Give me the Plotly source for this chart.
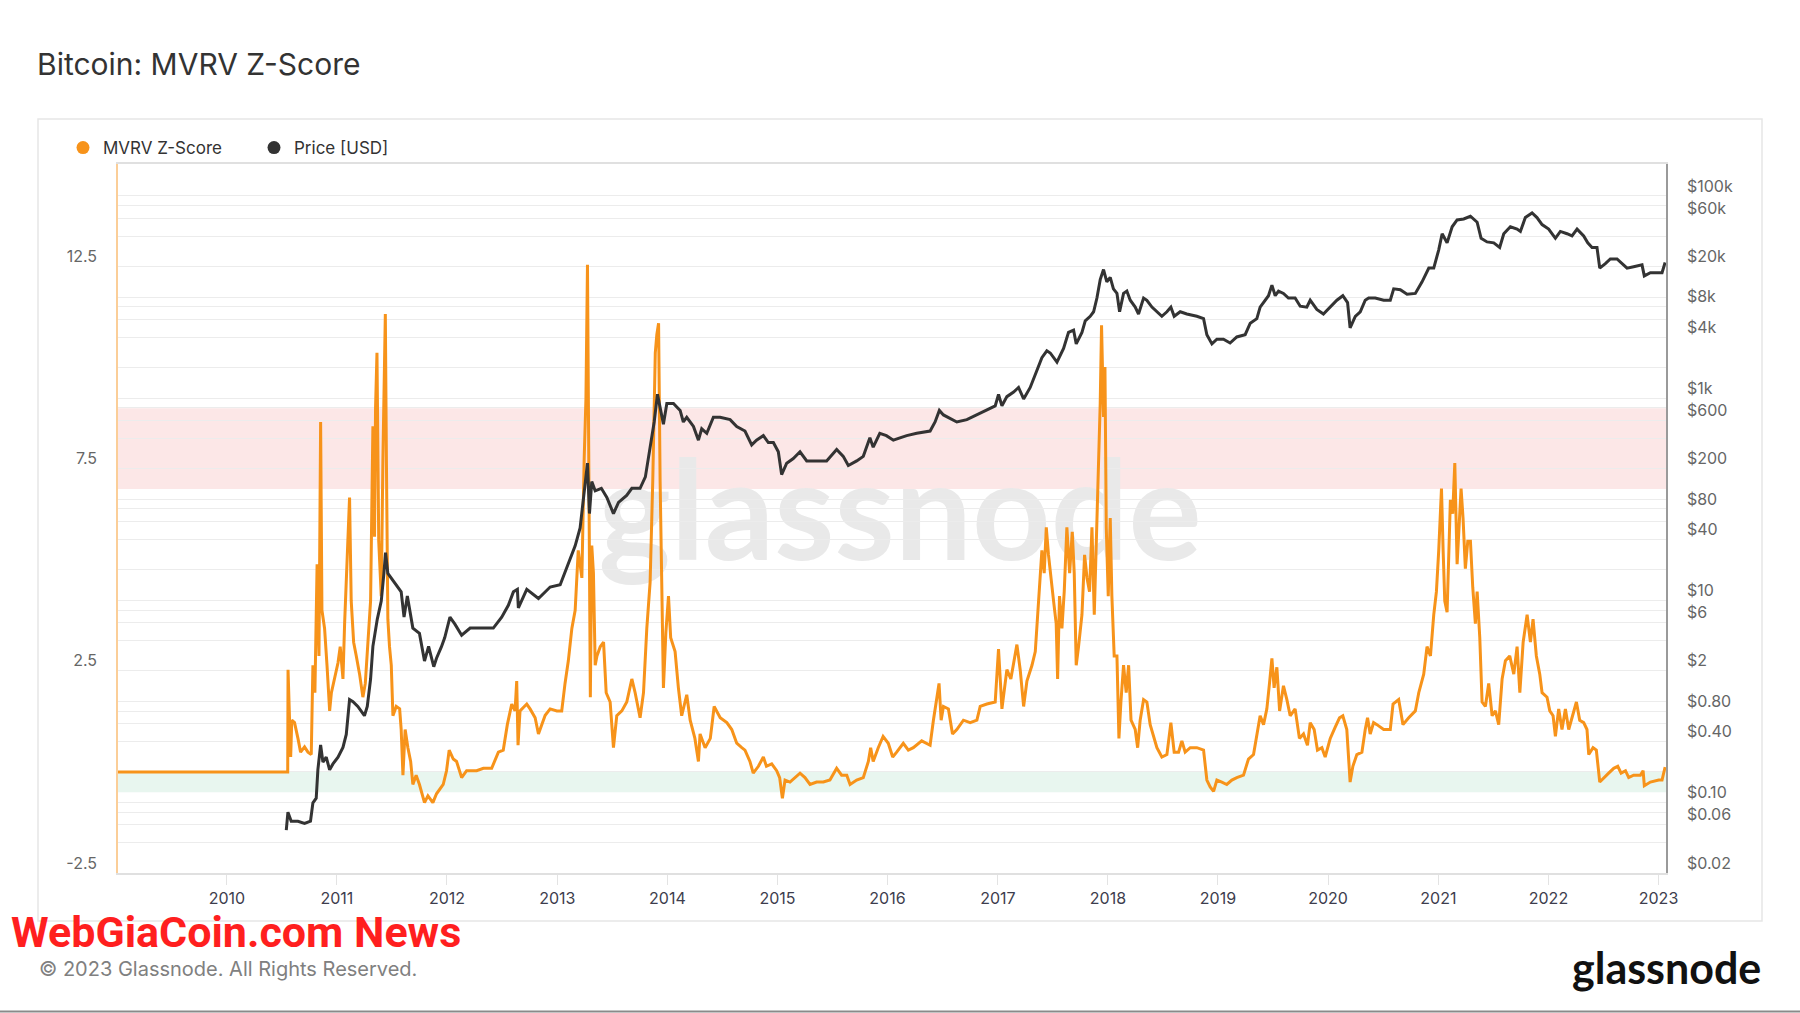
import datetime as dt
import plotly.graph_objects as go

# ---------------- data ----------------
# MVRV Z-Score: time as decimal year, value
z_year = [2009.005, 2010.553, 2010.556, 2010.58, 2010.59, 2010.615, 2010.646, 2010.67, 2010.706, 2010.737,
          2010.767, 2010.782, 2010.80, 2010.82, 2010.837, 2010.852, 2010.864, 2010.888, 2010.91, 2010.934,
          2010.95, 2010.98, 2011.01, 2011.03, 2011.055, 2011.07, 2011.094, 2011.115, 2011.13, 2011.152,
          2011.176, 2011.206, 2011.236, 2011.258, 2011.282, 2011.306, 2011.327, 2011.342, 2011.351, 2011.364,
          2011.38, 2011.403, 2011.418, 2011.433, 2011.44, 2011.45, 2011.463, 2011.478, 2011.494, 2011.509,
          2011.539, 2011.57, 2011.584, 2011.6, 2011.62, 2011.645, 2011.67, 2011.69, 2011.72, 2011.75,
          2011.796, 2011.827, 2011.872, 2011.905, 2011.966, 2011.996, 2012.02, 2012.057, 2012.087, 2012.133,
          2012.178, 2012.223, 2012.269, 2012.33, 2012.405, 2012.466, 2012.51, 2012.547, 2012.587, 2012.617,
          2012.632, 2012.644, 2012.662, 2012.723, 2012.753, 2012.799, 2012.829, 2012.89, 2012.935, 2012.996,
          2013.04, 2013.07, 2013.10, 2013.132, 2013.162, 2013.19, 2013.223, 2013.244, 2013.26, 2013.274,
          2013.286, 2013.30, 2013.313, 2013.328, 2013.344, 2013.36, 2013.39, 2013.42, 2013.444, 2013.48,
          2013.51, 2013.54, 2013.586, 2013.631, 2013.677, 2013.707, 2013.752, 2013.783, 2013.813, 2013.843,
          2013.867, 2013.89, 2013.904, 2013.92, 2013.934, 2013.95, 2013.964, 2013.986, 2014.01, 2014.03,
          2014.07, 2014.10, 2014.13, 2014.176, 2014.207, 2014.25, 2014.282, 2014.297, 2014.343, 2014.39,
          2014.425, 2014.48, 2014.54, 2014.585, 2014.63, 2014.676, 2014.705, 2014.75, 2014.78, 2014.827,
          2014.872, 2014.9, 2014.948, 2014.993, 2015.02, 2015.045, 2015.069, 2015.114, 2015.16, 2015.205,
          2015.25, 2015.296, 2015.356, 2015.417, 2015.477, 2015.538, 2015.583, 2015.63, 2015.66, 2015.72,
          2015.78, 2015.826, 2015.847, 2015.87, 2015.916, 2015.96, 2016.007, 2016.047, 2016.083, 2016.143,
          2016.189, 2016.234, 2016.31, 2016.386, 2016.416, 2016.446, 2016.467, 2016.486, 2016.507, 2016.552,
          2016.589, 2016.628, 2016.688, 2016.749, 2016.81, 2016.84, 2016.9, 2016.976, 2017.006, 2017.037,
          2017.082, 2017.118, 2017.15, 2017.173, 2017.203, 2017.234, 2017.264, 2017.31, 2017.34, 2017.37,
          2017.40, 2017.421, 2017.44, 2017.46, 2017.476, 2017.506, 2017.53, 2017.543, 2017.56, 2017.582,
          2017.603, 2017.627, 2017.652, 2017.676, 2017.694, 2017.712, 2017.733, 2017.764, 2017.788, 2017.81,
          2017.833, 2017.855, 2017.876, 2017.894, 2017.915, 2017.93, 2017.942, 2017.96, 2017.973, 2017.985,
          2018.003, 2018.021, 2018.036, 2018.057, 2018.082, 2018.10, 2018.118, 2018.142, 2018.166, 2018.188,
          2018.21, 2018.248, 2018.27, 2018.293, 2018.324, 2018.354, 2018.384, 2018.42, 2018.445, 2018.49,
          2018.536, 2018.572, 2018.602, 2018.642, 2018.672, 2018.702, 2018.748, 2018.808, 2018.869, 2018.899,
          2018.929, 2018.96, 2018.99, 2019.035, 2019.08, 2019.126, 2019.171, 2019.232, 2019.277, 2019.323,
          2019.353, 2019.383, 2019.414, 2019.444, 2019.468, 2019.49, 2019.51, 2019.535, 2019.56, 2019.595,
          2019.626, 2019.656, 2019.701, 2019.74, 2019.777, 2019.813, 2019.838, 2019.874, 2019.904, 2019.944,
          2019.974, 2020.02, 2020.065, 2020.104, 2020.134, 2020.17, 2020.2, 2020.225, 2020.261, 2020.307,
          2020.337, 2020.358, 2020.382, 2020.413, 2020.443, 2020.504, 2020.564, 2020.589, 2020.64, 2020.679,
          2020.731, 2020.791, 2020.822, 2020.867, 2020.897, 2020.928, 2020.958, 2020.982, 2021.003, 2021.018,
          2021.028, 2021.043, 2021.058, 2021.079, 2021.094, 2021.109, 2021.13, 2021.149, 2021.17, 2021.185,
          2021.206, 2021.224, 2021.245, 2021.267, 2021.291, 2021.312, 2021.336, 2021.352, 2021.376, 2021.397,
          2021.427, 2021.457, 2021.488, 2021.518, 2021.548, 2021.579, 2021.609, 2021.648, 2021.685, 2021.715,
          2021.74, 2021.77, 2021.806, 2021.836, 2021.86, 2021.89, 2021.921, 2021.942, 2021.987, 2022.012,
          2022.042, 2022.063, 2022.093, 2022.123, 2022.154, 2022.184, 2022.214, 2022.254, 2022.284, 2022.32,
          2022.35, 2022.366, 2022.405, 2022.435, 2022.466, 2022.502, 2022.547, 2022.593, 2022.63, 2022.66,
          2022.7, 2022.729, 2022.774, 2022.835, 2022.86, 2022.871, 2022.926, 2023.002, 2023.032, 2023.06]
z_value = [0.0, 0.0, 2.53, 0.37, 1.28, 1.22, 0.83, 0.49, 0.62, 0.49,
           0.43, 2.64, 1.96, 5.14, 2.87, 8.66, 4.0, 3.55, 2.64, 1.51,
           1.96, 2.30, 2.70, 3.10, 2.30, 3.67, 5.60, 6.79, 4.23, 3.21,
           2.87, 2.42, 1.85, 2.19, 3.21, 4.23, 8.55, 5.82, 9.0, 10.37,
           5.71, 4.35, 7.75, 9.68, 11.33, 7.64, 3.78, 3.10, 2.64, 1.39,
           1.62, 1.56, 1.05, -0.08, 1.05, 0.6, 0.26, -0.31, -0.08, -0.31,
           -0.76, -0.59, -0.76, -0.54, -0.31, 0.03, 0.54, 0.32, 0.26, -0.14,
           0.03, 0.03, 0.03, 0.09, 0.09, 0.49, 0.54, 1.17, 1.68, 1.51,
           2.25, 0.66, 1.51, 1.68, 1.56, 1.34, 0.94, 1.40, 1.56, 1.51,
           1.51, 2.19, 2.75, 3.55, 4.0, 5.48, 4.8, 7.75, 9.23, 12.55,
           7.19, 1.85, 5.6, 4.92, 2.64, 2.87, 3.10, 3.21, 1.96, 1.73,
           0.6, 1.39, 1.51, 1.73, 2.30, 1.96, 1.34, 1.96, 3.55, 4.69,
           7.19, 10.37, 10.82, 11.1, 7.19, 4.23, 2.08, 3.44, 4.35, 3.32,
           2.98, 2.08, 1.39, 1.91, 1.28, 0.83, 0.26, 0.94, 0.6, 0.83,
           1.62, 1.34, 1.22, 1.05, 0.71, 0.6, 0.54, 0.26, -0.03, 0.14,
           0.37, 0.14, 0.2, 0.03, -0.14, -0.65, -0.2, -0.25, -0.14, -0.03,
           -0.14, -0.31, -0.25, -0.25, -0.2, 0.09, -0.08, -0.08, -0.31, -0.2,
           -0.14, 0.26, 0.6, 0.26, 0.6, 0.88, 0.71, 0.37, 0.49, 0.71,
           0.54, 0.6, 0.77, 0.66, 1.28, 1.85, 2.19, 1.28, 1.62, 1.56,
           0.94, 1.05, 1.28, 1.22, 1.28, 1.62, 1.68, 1.73, 3.04, 1.56,
           2.53, 2.30, 2.75, 3.15, 2.53, 1.62, 2.25, 2.64, 2.98, 4.23,
           5.48, 4.92, 6.05, 5.37, 4.92, 4.23, 3.67, 2.30, 4.35, 3.55,
           4.46, 6.05, 4.92, 5.94, 4.92, 2.64, 3.10, 3.89, 5.37, 4.8,
           4.46, 6.05, 3.89, 5.71, 7.19, 9.12, 11.05, 8.78, 10.02, 6.05,
           4.35, 6.28, 4.35, 2.87, 2.87, 0.83, 1.73, 2.64, 1.96, 2.64,
           1.28, 1.05, 0.6, 1.28, 1.79, 1.73, 1.17, 0.83, 0.6, 0.37,
           0.43, 1.22, 0.49, 0.49, 0.77, 0.49, 0.6, 0.6, 0.54, -0.2,
           -0.37, -0.48, -0.2, -0.25, -0.31, -0.2, -0.14, -0.08, 0.32, 0.43,
           0.94, 1.39, 1.17, 1.56, 2.19, 2.81, 2.08, 2.59, 1.51, 2.13,
           1.79, 1.39, 1.56, 0.83, 0.94, 0.66, 1.22, 1.05, 0.54, 0.6,
           0.37, 0.83, 1.11, 1.34, 1.39, 1.05, -0.25, 0.14, 0.43, 0.49,
           1.05, 1.34, 0.94, 1.22, 1.17, 1.05, 1.05, 1.68, 1.79, 1.17,
           1.34, 1.51, 1.96, 2.42, 3.1, 2.87, 3.89, 4.46, 5.48, 6.5,
           7.01, 5.48, 4.23, 3.95, 5.37, 6.73, 6.39, 7.64, 5.14, 6.05,
           7.01, 6.28, 5.03, 5.71, 5.71, 4.57, 3.67, 4.46, 3.32, 1.73,
           1.62, 2.19, 1.39, 1.51, 1.17, 2.30, 2.75, 2.87, 2.42, 3.1,
           1.96, 3.21, 3.89, 3.21, 3.78, 2.87, 2.42, 1.96, 1.85, 1.51,
           1.39, 0.88, 1.56, 1.05, 1.56, 1.05, 1.34, 1.73, 1.28, 1.22,
           1.05, 0.43, 0.6, 0.54, -0.25, -0.14, -0.03, 0.09, 0.14, -0.03,
           0.03, -0.14, -0.08, -0.08, 0.03, -0.34, -0.25, -0.2, -0.2, 0.12]

# Price [USD]
price_year = [2010.54, 2010.555, 2010.585, 2010.646, 2010.706, 2010.76, 2010.782, 2010.812, 2010.827, 2010.852,
              2010.873, 2010.903, 2010.934, 2010.964, 2011.01, 2011.055, 2011.085, 2011.115, 2011.146, 2011.19,
              2011.25, 2011.276, 2011.306, 2011.327, 2011.367, 2011.403, 2011.427, 2011.442, 2011.463, 2011.524,
              2011.584, 2011.61, 2011.64, 2011.69, 2011.75, 2011.796, 2011.833, 2011.88, 2011.905, 2011.95,
              2011.98, 2012.027, 2012.072, 2012.133, 2012.21, 2012.30, 2012.42, 2012.496, 2012.556, 2012.602,
              2012.638, 2012.647, 2012.723, 2012.829, 2012.935, 2013.026, 2013.087, 2013.162, 2013.207, 2013.244,
              2013.274, 2013.292, 2013.313, 2013.344, 2013.40, 2013.45, 2013.51, 2013.556, 2013.63, 2013.677,
              2013.752, 2013.80, 2013.843, 2013.88, 2013.91, 2013.934, 2013.964, 2013.995, 2014.055, 2014.116,
              2014.145, 2014.176, 2014.237, 2014.282, 2014.312, 2014.358, 2014.418, 2014.479, 2014.57, 2014.63,
              2014.705, 2014.766, 2014.81, 2014.872, 2014.917, 2014.963, 2015.008, 2015.038, 2015.084, 2015.144,
              2015.205, 2015.266, 2015.356, 2015.447, 2015.538, 2015.598, 2015.644, 2015.72, 2015.78, 2015.84,
              2015.87, 2015.93, 2015.99, 2016.053, 2016.113, 2016.174, 2016.265, 2016.386, 2016.431, 2016.47,
              2016.507, 2016.583, 2016.628, 2016.719, 2016.81, 2016.90, 2016.976, 2017.006, 2017.037, 2017.082,
              2017.143, 2017.188, 2017.234, 2017.294, 2017.355, 2017.40, 2017.445, 2017.476, 2017.537, 2017.597,
              2017.642, 2017.688, 2017.712, 2017.764, 2017.794, 2017.839, 2017.87, 2017.90, 2017.93, 2017.96,
              2017.99, 2018.021, 2018.05, 2018.082, 2018.106, 2018.142, 2018.172, 2018.203, 2018.248, 2018.278,
              2018.324, 2018.354, 2018.40, 2018.445, 2018.49, 2018.536, 2018.572, 2018.602, 2018.657, 2018.717,
              2018.808, 2018.869, 2018.899, 2018.945, 2018.99, 2019.05, 2019.11, 2019.171, 2019.247, 2019.293,
              2019.353, 2019.383, 2019.429, 2019.459, 2019.49, 2019.52, 2019.55, 2019.595, 2019.64, 2019.701,
              2019.747, 2019.807, 2019.838, 2019.898, 2019.958, 2020.02, 2020.08, 2020.134, 2020.177, 2020.20,
              2020.247, 2020.292, 2020.337, 2020.368, 2020.428, 2020.504, 2020.564, 2020.595, 2020.655, 2020.716,
              2020.791, 2020.852, 2020.913, 2020.958, 2021.003, 2021.034, 2021.079, 2021.125, 2021.17, 2021.23,
              2021.291, 2021.352, 2021.388, 2021.442, 2021.503, 2021.557, 2021.594, 2021.654, 2021.715, 2021.745,
              2021.79, 2021.851, 2021.896, 2021.942, 2022.002, 2022.063, 2022.108, 2022.169, 2022.214, 2022.26,
              2022.32, 2022.357, 2022.396, 2022.441, 2022.466, 2022.517, 2022.562, 2022.623, 2022.668, 2022.714,
              2022.774, 2022.85, 2022.871, 2022.926, 2022.986, 2023.032, 2023.06]
price_usd = [0.053, 0.08, 0.065, 0.065, 0.062, 0.065, 0.099, 0.11, 0.21, 0.37,
             0.25, 0.28, 0.21, 0.24, 0.28, 0.35, 0.47, 1.04, 0.99, 0.89,
             0.72, 0.89, 1.66, 3.5, 6.5, 9.8, 18.4, 29.5, 18.4, 15.0,
             12.1, 6.8, 11.0, 5.3, 4.7, 2.5, 3.5, 2.2, 2.67, 3.47,
             4.27, 6.8, 5.8, 4.5, 5.3, 5.3, 5.3, 6.8, 8.9, 12.1,
             12.8, 8.4, 12.8, 10.4, 13.5, 14.2, 21.6, 34.5, 52.0, 109.0,
             227.0, 72.0, 149.0, 121.0, 128.0, 104.0, 72.0, 93.0, 109.0, 128.0,
             128.0, 166.0, 310.0, 580.0, 1090.0, 794.0, 552.0, 883.0, 883.0, 755.0,
             580.0, 646.0, 524.0, 383.0, 497.0, 448.0, 646.0, 646.0, 612.0, 524.0,
             472.0, 344.0, 383.0, 425.0, 363.0, 363.0, 294.0, 175.0, 227.0, 252.0,
             294.0, 239.0, 239.0, 239.0, 310.0, 265.0, 215.0, 239.0, 265.0, 404.0,
             327.0, 448.0, 425.0, 383.0, 404.0, 425.0, 448.0, 472.0, 580.0, 755.0,
             681.0, 612.0, 580.0, 612.0, 681.0, 755.0, 838.0, 1089.0, 838.0, 1033.0,
             1148.0, 1274.0, 980.0, 1274.0, 1837.0, 2512.0, 2938.0, 2793.0, 2265.0, 3097.0,
             4467.0, 4710.0, 3436.0, 4467.0, 5808.0, 6442.0, 7145.0, 9772.0, 14860.0, 18700.0,
             14125.0, 15670.0, 12050.0, 10860.0, 7145.0, 10860.0, 11455.0, 9290.0, 7943.0, 6792.0,
             9772.0, 9290.0, 7943.0, 7145.0, 6442.0, 7145.0, 7943.0, 6442.0, 7145.0, 6792.0,
             6442.0, 6109.0, 4236.0, 3436.0, 3819.0, 3819.0, 3508.0, 4027.0, 4236.0, 5508.0,
             6109.0, 7943.0, 9290.0, 10300.0, 13120.0, 10300.0, 11455.0, 10860.0, 9772.0, 9772.0,
             8110.0, 7943.0, 9290.0, 7534.0, 6792.0, 7943.0, 9290.0, 10300.0, 8810.0, 4955.0,
             6442.0, 7145.0, 9290.0, 9772.0, 9772.0, 9290.0, 9290.0, 12050.0, 11800.0, 10640.0,
             10860.0, 14125.0, 19320.0, 19320.0, 29310.0, 42270.0, 34360.0, 49550.0, 57940.0, 59160.0,
             62950.0, 54950.0, 38110.0, 35080.0, 34360.0, 30900.0, 42270.0, 49550.0, 46990.0, 44570.0,
             61090.0, 67760.0, 61090.0, 52120.0, 46990.0, 38110.0, 44570.0, 42270.0, 40180.0, 46990.0,
             40180.0, 34360.0, 30900.0, 30900.0, 19320.0, 21430.0, 23820.0, 23820.0, 21430.0, 19320.0,
             19950.0, 20800.0, 16180.0, 17380.0, 17380.0, 17380.0, 22000.0]

year_ticks = list(range(2010, 2024))
z_tick_vals = [-2.5, 2.5, 7.5, 12.5]
price_grid_vals = [0.02, 0.04, 0.06, 0.08, 0.1, 0.2, 0.4, 0.6, 0.8, 1, 2, 4, 6, 8, 10, 20, 40, 60, 80, 100,
                   200, 400, 600, 800, 1000, 2000, 4000, 6000, 8000, 10000, 20000, 40000, 60000, 80000, 100000]
price_labels = {0.02: "$0.02", 0.06: "$0.06", 0.1: "$0.10", 0.4: "$0.40", 0.8: "$0.80", 2: "$2", 6: "$6",
                10: "$10", 40: "$40", 80: "$80", 200: "$200", 600: "$600", 1000: "$1k", 4000: "$4k",
                8000: "$8k", 20000: "$20k", 60000: "$60k", 100000: "$100k"}
red_zone = (7.0, 9.0)
green_zone = (-0.5, 0.0)


def to_date(y):
    yr = int(y)
    start = dt.datetime(yr, 1, 1)
    return start + dt.timedelta(days=(y - yr) * (dt.datetime(yr + 1, 1, 1) - start).days)


z_dates = [to_date(v) for v in z_year]
price_dates = [to_date(v) for v in price_year]

# ---------------- layout geometry ----------------
W, H = 1800, 1013
L, R, T, B = 118, 134, 164, 140
PW, PH = W - L - R, H - T - B


def px(x):
    return (x - L) / PW


def py(y):
    return (H - B - y) / PH


ORANGE = "#f7931a"
DARK = "#333333"
FONT = "Inter"

fig = go.Figure()

fig.add_trace(go.Scatter(x=z_dates, y=z_value, mode="lines", line=dict(color=ORANGE, width=3),
                         yaxis="y", showlegend=False, name="MVRV Z-Score"))
fig.add_trace(go.Scatter(x=price_dates, y=price_usd, mode="lines", line=dict(color=DARK, width=3),
                         yaxis="y2", showlegend=False, name="Price [USD]"))
# legend entries (dot markers)
fig.add_trace(go.Scatter(x=[None], y=[None], mode="markers", marker=dict(color=ORANGE, size=13),
                         name="MVRV Z-Score"))
fig.add_trace(go.Scatter(x=[None], y=[None], mode="markers", marker=dict(color=DARK, size=13),
                         name="Price [USD]"))

shapes = [
    dict(type="rect", xref="paper", yref="y", x0=0, x1=1, y0=red_zone[0], y1=red_zone[1],
         fillcolor="rgba(244,160,160,0.25)", line=dict(width=0), layer="below"),
    dict(type="rect", xref="paper", yref="y", x0=0, x1=1, y0=green_zone[0], y1=green_zone[1],
         fillcolor="rgba(150,215,180,0.22)", line=dict(width=0), layer="below"),
    # outer card
    dict(type="rect", xref="paper", yref="paper", x0=px(38), x1=px(1762), y0=py(921), y1=py(119),
         line=dict(color="#e6e6e6", width=1.5), fillcolor="rgba(0,0,0,0)", layer="below"),
    # bottom dark rule
    dict(type="line", xref="paper", yref="paper", x0=px(0), x1=px(1800), y0=py(1011.5), y1=py(1011.5),
         line=dict(color="#8a8a8a", width=2)),
    # watermark
    dict(type="rect", xref="paper", yref="paper", x0=px(600), x1=px(1200), y0=py(575), y1=py(435),
         line=dict(width=0), fillcolor="rgba(0,0,0,0)", layer="below",
         label=dict(text="glassnode", textposition="middle center",
                    font=dict(family="Lato", size=137, color="#e9e9e9", weight="bold"))),
]

annotations = [
    dict(text="WebGiaCoin.com News", xref="paper", yref="paper", x=px(9), y=py(932),
         xanchor="left", yanchor="middle", showarrow=False,
         font=dict(family="Roboto", size=43, color="#ff1f1f", weight="bold")),
    dict(text="© 2023 Glassnode. All Rights Reserved.", xref="paper", yref="paper", x=px(37), y=py(969),
         xanchor="left", yanchor="middle", showarrow=False,
         font=dict(family=FONT, size=20, color="#808080")),
    dict(text="glassnode", xref="paper", yref="paper", x=px(1763), y=py(967),
         xanchor="right", yanchor="middle", showarrow=False,
         font=dict(family="Lato", size=43, color="#111111", weight="bold")),
]

fig.update_layout(
    width=W, height=H,
    margin=dict(l=L, r=R, t=T, b=B, pad=0),
    paper_bgcolor="white", plot_bgcolor="white",
    font=dict(family=FONT, color="#333"),
    title=dict(text="Bitcoin: MVRV Z-Score", xref="container", yref="container",
               x=37 / W, xanchor="left", y=1 - 64 / H, yanchor="middle",
               font=dict(family=FONT, size=30, color="#333333")),
    showlegend=True,
    legend=dict(orientation="h", x=px(63), xanchor="left", y=py(148), yanchor="middle",
                font=dict(family=FONT, size=17, color="#333333"),
                bgcolor="rgba(0,0,0,0)", borderwidth=0,
                entrywidth=146, entrywidthmode="pixels", itemclick=False),
    xaxis=dict(type="date", range=[to_date(2009.011), to_date(2023.068)],
               tickvals=[dt.datetime(y, 1, 1) for y in year_ticks], ticktext=[str(y) for y in year_ticks],
               ticks="outside", ticklen=10, tickcolor="#e3e3e3", tickwidth=1,
               showgrid=False, zeroline=False, showline=True, linecolor="#e0e0e0", linewidth=1.5, mirror=True,
               tickfont=dict(family=FONT, size=16, color="#3d3d4d")),
    yaxis=dict(range=[-2.5, 15.04], tickvals=z_tick_vals, ticktext=[str(v) for v in z_tick_vals],
               showgrid=True, gridcolor="#ececec", gridwidth=1, zeroline=False,
               showline=True, linecolor="rgba(247,147,26,0.45)", linewidth=1.5,
               ticks="", ticklabelstandoff=16, ticklabelshift=-10,
               tickfont=dict(family=FONT, size=16, color="#666666")),
    yaxis2=dict(type="log", overlaying="y", side="right", range=[-1.699, 5.316],
                tickvals=price_grid_vals, ticktext=[price_labels.get(v, "") for v in price_grid_vals],
                showgrid=True, gridcolor="#ececec", gridwidth=1, zeroline=False,
                showline=True, linecolor="#9a9a9a", linewidth=1.5,
                ticks="", ticklabelstandoff=16, ticklabelshift=-10,
                tickfont=dict(family=FONT, size=16, color="#666666")),
    shapes=shapes,
    annotations=annotations,
)

fig.write_html("out.html")
